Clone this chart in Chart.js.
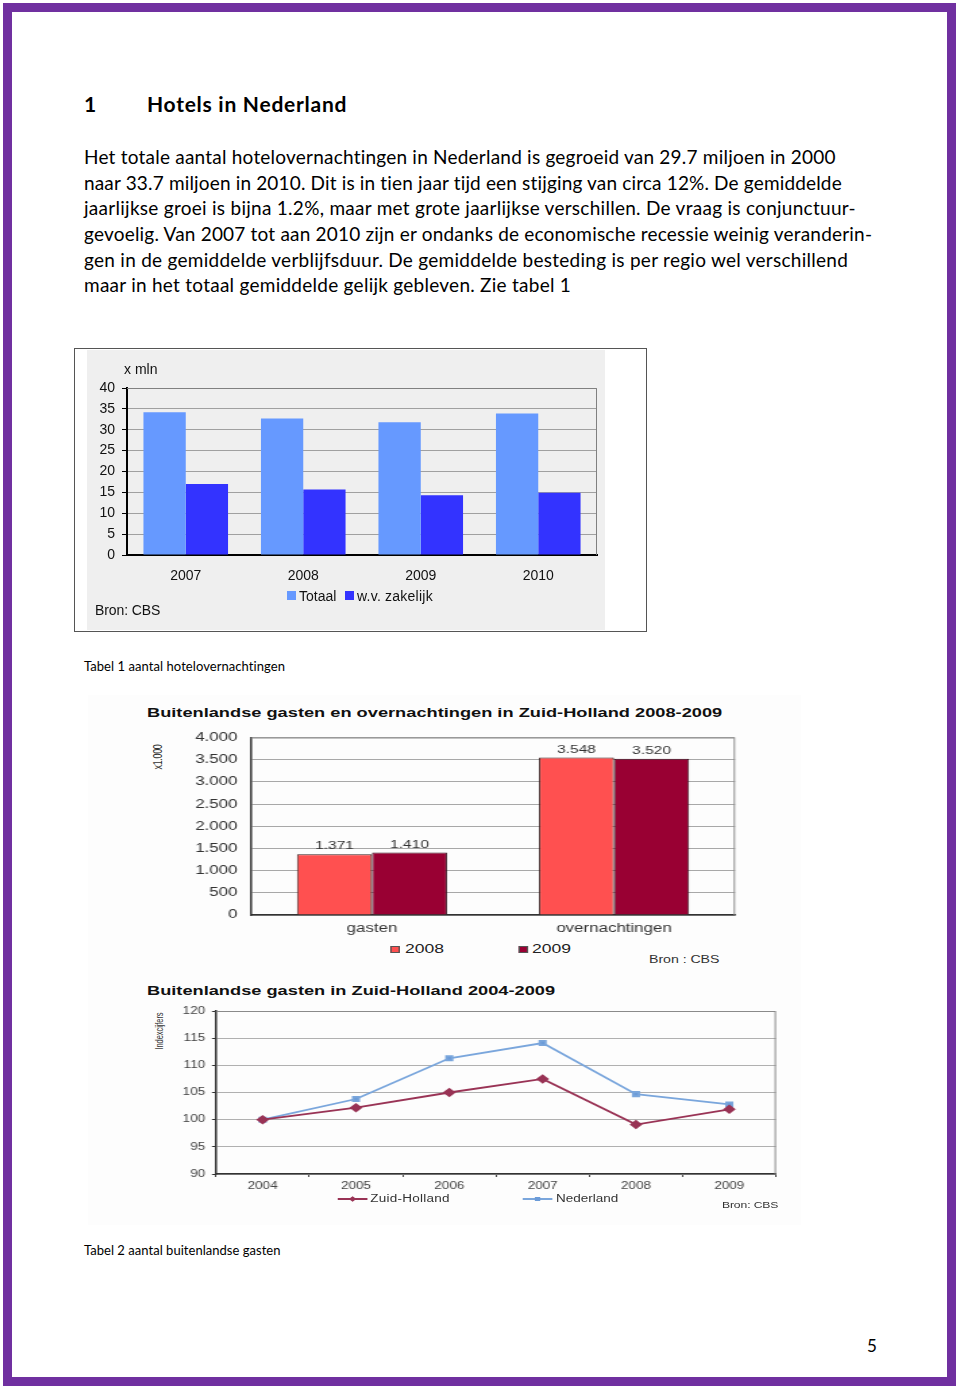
<!DOCTYPE html>
<html>
<head>
<meta charset="utf-8">
<title>Hotels in Nederland</title>
<script src="https://cdn.jsdelivr.net/npm/chart.js@4.4.1/dist/chart.umd.min.js"></script>
<style>
html, body { margin: 0; padding: 0; background: #fff; }
#page { position: relative; width: 960px; height: 1389px; overflow: hidden; background: #fff; font-family: Lato, "Open Sans", sans-serif; color: #000; }
.frame { position: absolute; left: 3px; top: 3px; width: 953px; height: 1383px; box-sizing: border-box; border: 9px solid #7030a0; }
.t { position: absolute; white-space: nowrap; }
.body { font-size: 19px; line-height: 26px; }
.ch { font-family: "Liberation Sans", Arial, sans-serif; color: #111; }
.rot { transform: translate(-50%, -50%) rotate(-90deg); transform-origin: 50% 50%; }
canvas { position: absolute; }
#zh { position: absolute; left: 88px; top: 695px; width: 528px; height: 530px; transform: scaleX(1.35); transform-origin: 0 0; background: #fdfdfd; }
.sq { position: absolute; box-sizing: border-box; }
</style>
</head>
<body>
<div id="page">
  <div class="frame"></div>

  <div class="t" style="left:84px; top:91px; font-size:21px; line-height:26px; font-weight:bold;">1</div>
  <div class="t" style="left:147px; top:91px; font-size:21px; line-height:26px; font-weight:bold;" data-w="200">Hotels in Nederland</div>

  <div class="t body" style="left:84px; top:144px;" data-w="752">Het totale aantal hotelovernachtingen in Nederland is gegroeid van 29.7 miljoen in 2000</div>
  <div class="t body" style="left:84px; top:170px;" data-w="759">naar 33.7 miljoen in 2010. Dit is in tien jaar tijd een stijging van circa 12%. De gemiddelde</div>
  <div class="t body" style="left:84px; top:195px;" data-w="772">jaarlijkse groei is bijna 1.2%, maar met grote jaarlijkse verschillen. De vraag is conjunctuur-</div>
  <div class="t body" style="left:84px; top:221px;" data-w="788">gevoelig. Van 2007 tot aan 2010 zijn er ondanks de economische recessie weinig veranderin-</div>
  <div class="t body" style="left:84px; top:247px;" data-w="764">gen in de gemiddelde verblijfsduur. De gemiddelde besteding is per regio wel verschillend</div>
  <div class="t body" style="left:84px; top:272px;" data-w="487">maar in het totaal gemiddelde gelijk gebleven. Zie tabel 1</div>

  <!-- grafiek 1 -->
  <div style="position:absolute; left:74px; top:348px; width:573px; height:284px; box-sizing:border-box; border:1px solid #555;"></div>
  <div style="position:absolute; left:87px; top:350px; width:518px; height:280px; background:#efefef;"></div>
  <canvas id="c1" width="518" height="280" style="left:87px; top:350px;"></canvas>
  <div class="t ch" style="left:124px; top:361px; font-size:14px; line-height:16px;">x mln</div>
  <div class="sq" style="left:287px; top:591px; width:9px; height:9px; background:#6699ff;"></div>
  <div class="t ch" style="left:299px; top:588px; font-size:14px; line-height:16px;">Totaal</div>
  <div class="sq" style="left:345px; top:591px; width:9px; height:9px; background:#3333ff;"></div>
  <div class="t ch" style="left:357px; top:588px; font-size:14px; line-height:16px;" data-w="76">w.v. zakelijk</div>
  <div class="t ch" style="left:95px; top:602px; font-size:14px; line-height:16px;" data-w="65">Bron: CBS</div>

  <div class="t" style="left:84px; top:658px; font-size:13px; line-height:16px;" data-w="201">Tabel 1 aantal hotelovernachtingen</div>

  <!-- grafieken Zuid-Holland -->
  <div id="zh">
    <div class="t ch" style="left:43.7px; top:10px; font-size:13.5px; line-height:16px; font-weight:bold;" data-w="426">Buitenlandse gasten en overnachtingen in Zuid-Holland 2008-2009</div>
    <div class="t ch rot" style="left:51.9px; top:62px; font-size:9px; line-height:10px; color:#333;" data-w="25">x1.000</div>
    <canvas id="c2" width="528" height="220" style="left:0; top:25px;"></canvas>
    <div class="sq" style="left:223.7px; top:250.5px; width:7px; height:7px; background:#ff5050; border:1px solid #555;"></div>
    <div class="t ch" style="left:234.8px; top:246px; font-size:13px; line-height:16px; color:#222;">2008</div>
    <div class="sq" style="left:319.3px; top:250.5px; width:7px; height:7px; background:#990033; border:1px solid #555;"></div>
    <div class="t ch" style="left:328.9px; top:246px; font-size:13px; line-height:16px; color:#222;">2009</div>
    <div class="t ch" style="left:415.6px; top:257px; font-size:10.5px; line-height:14px; color:#333;" data-w="52.6">Bron : CBS</div>

    <div class="t ch" style="left:43.7px; top:288px; font-size:13.5px; line-height:16px; font-weight:bold;" data-w="302">Buitenlandse gasten in Zuid-Holland 2004-2009</div>
    <div class="t ch rot" style="left:53.3px; top:336px; font-size:7.5px; line-height:9px; color:#333;" data-w="37">Indexcijfers</div>
    <canvas id="c3" width="528" height="195" style="left:0; top:305px;"></canvas>
    <div class="sq" style="left:185.2px; top:503px; width:22.2px; height:2px; background:#993355;"></div>
    <div class="sq" style="left:194.3px; top:502px; width:4px; height:4px; background:#993355; transform:rotate(45deg);"></div>
    <div class="t ch" style="left:209px; top:497px; font-size:10px; line-height:14px; color:#333;" data-w="59.3">Zuid-Holland</div>
    <div class="sq" style="left:322.2px; top:503px; width:22.2px; height:2px; background:#7aa6dc;"></div>
    <div class="sq" style="left:331.3px; top:502px; width:4px; height:4px; background:#6b9bd8;"></div>
    <div class="t ch" style="left:346.7px; top:497px; font-size:10px; line-height:14px; color:#333;" data-w="45.9">Nederland</div>
    <div class="t ch" style="left:469.6px; top:504px; font-size:9px; line-height:12px; color:#333;" data-w="42.2">Bron: CBS</div>
  </div>

  <div class="t" style="left:84px; top:1242px; font-size:13px; line-height:16px;" data-w="197">Tabel 2 aantal buitenlandse gasten</div>

  <div class="t" style="left:867px; top:1336px; font-size:17px; line-height:20px;">5</div>
</div>

<script>
// hotelovernachtingen x mln
const jaren1 = ['2007', '2008', '2009', '2010'];
const totaal = [34.2, 32.7, 31.8, 33.9];
const zakelijk = [17.0, 15.7, 14.3, 14.9];

// buitenlandse gasten en overnachtingen Zuid-Holland x1.000
const soorten = ['gasten', 'overnachtingen'];
const waarden2008 = [1371, 3548];
const waarden2009 = [1410, 3520];

// indexcijfers buitenlandse gasten (2004 = 100)
const jaren3 = ['2004', '2005', '2006', '2007', '2008', '2009'];
const zuidHolland = [100, 102.2, 105.0, 107.5, 99.1, 101.9];
const nederland = [100, 103.8, 111.3, 114.1, 104.7, 102.8];

const F = '"Liberation Sans", Arial, sans-serif';
Chart.defaults.font.family = F;

// letter-spacing zo zetten dat de regel de gemeten breedte krijgt
function fitText() {
    document.querySelectorAll('[data-w]').forEach(function (el) {
        const target = parseFloat(el.dataset.w);
        el.style.letterSpacing = '0px';
        const w = el.scrollWidth;
        const n = el.textContent.length;
        el.style.letterSpacing = ((target - w) / n) + 'px';
    });
}
fitText();

function nl(v) {
    return String(v).replace(/\B(?=(\d{3})+(?!\d))/g, '.');
}

// bovenkant en rechterkant van het plotvlak
const plotBox = {
    id: 'plotBox',
    beforeDatasetsDraw(chart, args, opts) {
        const a = chart.chartArea;
        const ctx = chart.ctx;
        ctx.save();
        ctx.strokeStyle = opts.color || '#888';
        ctx.lineWidth = 1;
        ctx.beginPath();
        ctx.moveTo(a.left, a.top + 0.5);
        ctx.lineTo(a.right - 0.5, a.top + 0.5);
        ctx.lineTo(a.right - 0.5, a.bottom);
        ctx.stroke();
        ctx.restore();
    }
};

const barLabels = {
    id: 'barLabels',
    afterDatasetsDraw(chart) {
        const ctx = chart.ctx;
        ctx.save();
        ctx.font = '11.5px ' + F;
        ctx.fillStyle = '#333';
        ctx.textAlign = 'center';
        ctx.textBaseline = 'middle';
        chart.data.datasets.forEach(function (ds, i) {
            chart.getDatasetMeta(i).data.forEach(function (bar, j) {
                ctx.fillText(nl(ds.data[j]), bar.x, bar.y - 8);
            });
        });
        ctx.restore();
    }
};

new Chart(document.getElementById('c1'), {
    type: 'bar',
    data: {
        labels: jaren1,
        datasets: [
            { label: 'Totaal', data: totaal, backgroundColor: '#6699ff' },
            { label: 'w.v. zakelijk', data: zakelijk, backgroundColor: '#3333ff' }
        ]
    },
    options: {
        responsive: false,
        animation: false,
        layout: { padding: { left: 0, top: 38, right: 8, bottom: 0 } },
        datasets: { bar: { categoryPercentage: 0.72, barPercentage: 1 } },
        plugins: {
            legend: { display: false },
            tooltip: { enabled: false },
            plotBox: { color: '#808080' }
        },
        scales: {
            x: {
                grid: { display: false, drawTicks: false },
                border: { color: '#000', width: 2 },
                ticks: { padding: 13, color: '#111', font: { size: 14 } },
                afterFit(s) { s.height = 75; }
            },
            y: {
                min: 0,
                max: 40,
                ticks: { stepSize: 5, padding: 7, color: '#111', font: { size: 14 } },
                grid: { color: '#a0a0a0', tickColor: '#000', tickLength: 5 },
                border: { color: '#000', width: 2 },
                afterFit(s) { s.width = 40; }
            }
        }
    },
    plugins: [plotBox]
});

new Chart(document.getElementById('c2'), {
    type: 'bar',
    data: {
        labels: soorten,
        datasets: [
            { label: '2008', data: waarden2008, backgroundColor: '#ff5050', borderColor: '#3a2020', borderWidth: 1 },
            { label: '2009', data: waarden2009, backgroundColor: '#990033', borderColor: '#3a1020', borderWidth: 1 }
        ]
    },
    options: {
        responsive: false,
        animation: false,
        layout: { padding: { left: 0, top: 12, right: 48.7, bottom: 0 } },
        datasets: { bar: { categoryPercentage: 0.62, barPercentage: 1 } },
        plugins: {
            legend: { display: false },
            tooltip: { enabled: false },
            plotBox: { color: '#8a8a8a' }
        },
        scales: {
            x: {
                grid: { display: false, drawTicks: false },
                border: { color: '#333', width: 1.5 },
                ticks: { padding: 6, color: '#333', font: { size: 12.5 } },
                afterFit(s) { s.height = 25; }
            },
            y: {
                min: 0,
                max: 4000,
                ticks: { stepSize: 500, padding: 10, color: '#333', font: { size: 12.5 }, callback: function (v) { return nl(v); } },
                grid: { color: '#a8a8a8', drawTicks: false },
                border: { color: '#333', width: 1.5 },
                afterFit(s) { s.width = 120.7; }
            }
        }
    },
    plugins: [plotBox, barLabels]
});

new Chart(document.getElementById('c3'), {
    type: 'line',
    data: {
        labels: jaren3,
        datasets: [
            {
                label: 'Zuid-Holland', data: zuidHolland,
                borderColor: '#993355', backgroundColor: '#993355', borderWidth: 1.8,
                pointStyle: 'rectRot', pointRadius: 3.5, tension: 0
            },
            {
                label: 'Nederland', data: nederland,
                borderColor: '#7aa6dc', backgroundColor: '#6b9bd8', borderWidth: 1.8,
                pointStyle: 'rect', pointRadius: 3, tension: 0
            }
        ]
    },
    options: {
        responsive: false,
        animation: false,
        layout: { padding: { left: 0, top: 9, right: 18.4, bottom: 0 } },
        plugins: {
            legend: { display: false },
            tooltip: { enabled: false },
            plotBox: { color: '#8a8a8a' }
        },
        scales: {
            x: {
                offset: true,
                grid: { drawOnChartArea: false, offset: true, tickLength: 3, color: '#444' },
                border: { color: '#333', width: 1.5 },
                ticks: { padding: 3, color: '#444', font: { size: 10 } },
                afterFit(s) { s.height = 21; }
            },
            y: {
                min: 90,
                max: 120,
                ticks: { stepSize: 5, padding: 5, color: '#444', font: { size: 10 } },
                grid: { color: '#b0b0b0', tickColor: '#333', tickLength: 3 },
                border: { color: '#333', width: 1.5 },
                afterFit(s) { s.width = 94.8; }
            }
        }
    },
    plugins: [plotBox]
});
</script>
</body>
</html>
